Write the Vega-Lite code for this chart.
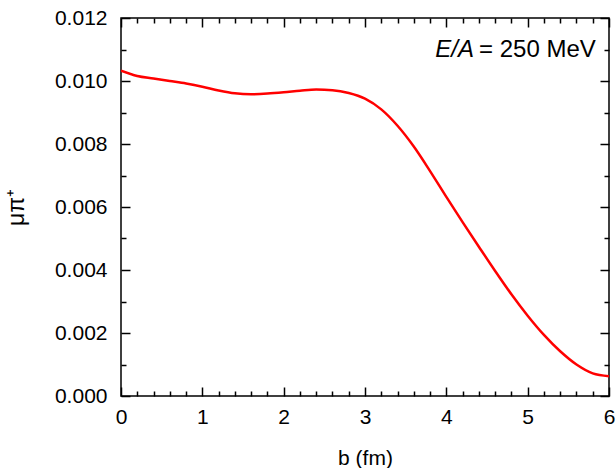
{
  "$schema": "https://vega.github.io/schema/vega-lite/v6.json",
  "autosize": "none",
  "width": 488,
  "height": 378,
  "padding": {"left": 121, "top": 18, "right": 7, "bottom": 72},
  "background": "white",
  "config": {
    "font": "Liberation Sans",
    "view": {"stroke": "black", "strokeWidth": 1.5},
    "axis": {
      "labelFont": "Liberation Sans",
      "titleFont": "Liberation Sans",
      "labelColor": "black",
      "titleColor": "black",
      "tickColor": "black",
      "tickWidth": 1.5,
      "domain": false,
      "grid": false
    }
  },
  "data": {
    "values": [
      {"b": 0.0, "mu": 0.01033},
      {"b": 0.2, "mu": 0.01016},
      {"b": 0.4, "mu": 0.01008},
      {"b": 0.6, "mu": 0.01000},
      {"b": 0.8, "mu": 0.00992},
      {"b": 1.0, "mu": 0.00982},
      {"b": 1.2, "mu": 0.00970},
      {"b": 1.4, "mu": 0.00961},
      {"b": 1.6, "mu": 0.00958},
      {"b": 1.8, "mu": 0.00960},
      {"b": 2.0, "mu": 0.00964},
      {"b": 2.2, "mu": 0.00969},
      {"b": 2.4, "mu": 0.00973},
      {"b": 2.6, "mu": 0.00971},
      {"b": 2.8, "mu": 0.00962},
      {"b": 3.0, "mu": 0.00944},
      {"b": 3.2, "mu": 0.00910},
      {"b": 3.4, "mu": 0.00858},
      {"b": 3.6, "mu": 0.00792},
      {"b": 3.8, "mu": 0.00714},
      {"b": 4.0, "mu": 0.00632},
      {"b": 4.2, "mu": 0.00552},
      {"b": 4.4, "mu": 0.00474},
      {"b": 4.6, "mu": 0.00397},
      {"b": 4.8, "mu": 0.00323},
      {"b": 5.0, "mu": 0.00255},
      {"b": 5.2, "mu": 0.00194},
      {"b": 5.4, "mu": 0.00142},
      {"b": 5.6, "mu": 0.00100},
      {"b": 5.8, "mu": 0.00072},
      {"b": 6.0, "mu": 0.00063}
    ]
  },
  "layer": [
    {
      "mark": {"type": "line", "color": "#ff0000", "strokeWidth": 2.5, "interpolate": "monotone", "clip": true},
      "encoding": {
        "x": {
          "field": "b", "type": "quantitative",
          "scale": {"domain": [0, 6], "nice": false, "zero": false},
          "axis": {
            "orient": "bottom",
            "values": [0, 1, 2, 3, 4, 5, 6],
            "format": "d",
            "offset": -9,
            "tickSize": 9,
            "labelFontSize": 21,
            "labelPadding": 10,
            "labelFlush": false,
            "labelOverlap": false,
            "title": "b (fm)",
            "titleFontSize": 21,
            "titleFontWeight": "normal",
            "titlePadding": 20
          }
        },
        "y": {
          "field": "mu", "type": "quantitative",
          "scale": {"domain": [0, 0.012], "nice": false, "zero": false},
          "axis": {
            "orient": "left",
            "values": [0, 0.002, 0.004, 0.006, 0.008, 0.010, 0.012],
            "format": ".3f",
            "offset": -9,
            "tickSize": 9,
            "labelFontSize": 21,
            "labelPadding": 14,
            "labelFlush": false,
            "labelOverlap": false,
            "title": "μπ⁺",
            "titleFontSize": 23,
            "titleFontWeight": "normal",
            "titlePadding": 26
          }
        }
      }
    },
    {
      "mark": {"type": "line", "opacity": 0},
      "encoding": {
        "x": {
          "field": "b", "type": "quantitative",
          "axis": {"orient": "top", "values": [0, 1, 2, 3, 4, 5, 6], "labels": false, "title": null, "offset": -9, "tickSize": 9}
        },
        "y": {
          "field": "mu", "type": "quantitative",
          "axis": {"orient": "right", "values": [0, 0.002, 0.004, 0.006, 0.008, 0.010, 0.012], "labels": false, "title": null, "offset": -9, "tickSize": 9}
        }
      }
    },
    {
      "mark": {"type": "line", "opacity": 0},
      "encoding": {
        "x": {
          "field": "b", "type": "quantitative",
          "axis": {"orient": "bottom", "values": [0.2,0.4,0.6,0.8,1.2,1.4,1.6,1.8,2.2,2.4,2.6,2.8,3.2,3.4,3.6,3.8,4.2,4.4,4.6,4.8,5.2,5.4,5.6,5.8], "labels": false, "title": null, "offset": -5, "tickSize": 5}
        },
        "y": {
          "field": "mu", "type": "quantitative",
          "axis": {"orient": "left", "values": [0.001, 0.003, 0.005, 0.007, 0.009, 0.011], "labels": false, "title": null, "offset": -5, "tickSize": 5}
        }
      }
    },
    {
      "mark": {"type": "line", "opacity": 0},
      "encoding": {
        "x": {
          "field": "b", "type": "quantitative",
          "axis": {"orient": "top", "values": [0.2,0.4,0.6,0.8,1.2,1.4,1.6,1.8,2.2,2.4,2.6,2.8,3.2,3.4,3.6,3.8,4.2,4.4,4.6,4.8,5.2,5.4,5.6,5.8], "labels": false, "title": null, "offset": -5, "tickSize": 5}
        },
        "y": {
          "field": "mu", "type": "quantitative",
          "axis": {"orient": "right", "values": [0.001, 0.003, 0.005, 0.007, 0.009, 0.011], "labels": false, "title": null, "offset": -5, "tickSize": 5}
        }
      }
    },
    {
      "data": {"values": [{"label": "E/A"}]},
      "mark": {"type": "text", "align": "right", "baseline": "alphabetic", "fontStyle": "italic", "fontSize": 24, "dx": -2, "font": "Liberation Sans", "color": "black"},
      "encoding": {
        "text": {"field": "label"},
        "x": {"datum": 4.365, "type": "quantitative", "axis": null},
        "y": {"datum": 0.01076, "type": "quantitative", "axis": null}
      }
    },
    {
      "data": {"values": [{"label": "= 250 MeV"}]},
      "mark": {"type": "text", "align": "left", "baseline": "alphabetic", "fontSize": 24, "dx": 3, "font": "Liberation Sans", "color": "black"},
      "encoding": {
        "text": {"field": "label"},
        "x": {"datum": 4.365, "type": "quantitative", "axis": null},
        "y": {"datum": 0.01076, "type": "quantitative", "axis": null}
      }
    }
  ],
  "resolve": {"axis": {"x": "independent", "y": "independent"}}
}
